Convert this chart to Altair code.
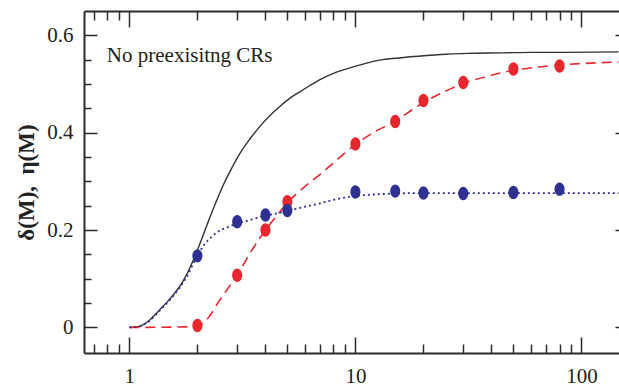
import altair as alt
import pandas as pd

# ---- data ----
pt_x = [2, 3, 4, 5, 10, 15, 20, 30, 50, 80]
red_pt_y = [0.004, 0.107, 0.200, 0.258, 0.377, 0.423, 0.466, 0.503, 0.531, 0.537]
blue_pt_y = [0.147, 0.217, 0.231, 0.240, 0.278, 0.280, 0.276, 0.275, 0.277, 0.284]

black_x = [1, 1.05, 1.11, 1.2, 1.36, 1.5, 1.67, 1.8, 1.95, 2.1, 2.27, 2.4, 2.6, 2.8, 3.08,
           3.4, 3.78, 4.2, 4.63, 5.1, 5.68, 6.3, 6.97, 8, 9.46, 11, 13.2, 16, 20, 25, 31,
           45, 60, 86, 146]
black_y = [0, 0.0005, 0.002, 0.011, 0.036, 0.057, 0.084, 0.110, 0.146, 0.184, 0.226, 0.254,
           0.292, 0.322, 0.357, 0.386, 0.413, 0.436, 0.454, 0.470, 0.484, 0.497, 0.509,
           0.522, 0.533, 0.542, 0.550, 0.554, 0.558, 0.561, 0.563, 0.564, 0.565, 0.565, 0.566]

red_x = [1, 1.5, 1.8, 2, 2.2, 2.5, 3, 3.5, 4, 4.5, 5, 6, 7, 8, 10, 12, 15, 20, 25, 30, 40,
         50, 65, 80, 100, 146]
red_y = [0, 0.0005, 0.001, 0.003, 0.016, 0.055, 0.108, 0.160, 0.200, 0.230, 0.256, 0.290,
         0.315, 0.338, 0.376, 0.400, 0.424, 0.462, 0.485, 0.501, 0.518, 0.528, 0.535,
         0.539, 0.542, 0.545]

blue_x = [1, 1.11, 1.2, 1.36, 1.5, 1.67, 1.8, 1.95, 2.05, 2.16, 2.3, 2.42, 2.69, 3, 3.5, 4,
          5, 6, 7, 8, 10, 12, 15, 20, 50, 146]
blue_y = [0, 0.002, 0.010, 0.034, 0.055, 0.082, 0.105, 0.138, 0.156, 0.172, 0.185, 0.194,
          0.205, 0.213, 0.222, 0.229, 0.239, 0.248, 0.255, 0.262, 0.270, 0.273, 0.275,
          0.276, 0.276, 0.276]

label_text = ["No preexisitng CRs"]
label_x = [0.795]
label_y = [0.545]

x_major = [1, 10, 100]
x_minor = [0.7, 0.8, 0.9, 2, 3, 4, 5, 6, 7, 8, 9, 20, 30, 40, 50, 60, 70, 80, 90]
y_major = [0, 0.2, 0.4, 0.6]
y_minor = [0.05, 0.1, 0.15, 0.25, 0.3, 0.35, 0.45, 0.5, 0.55]

XMIN, XMAX = 0.63, 146.6
YMIN, YMAX = -0.0526, 0.65
W, H = 535, 342

FRAME = "#2a2a2a"
RED = "#e8262d"
BLUE = "#2e3192"
SERIF = "Liberation Serif"

black_df = pd.DataFrame({"x": black_x, "y": black_y})
red_df = pd.DataFrame({"x": red_x, "y": red_y})
blue_df = pd.DataFrame({"x": blue_x, "y": blue_y})
redp_df = pd.DataFrame({"x": pt_x, "y": red_pt_y})
bluep_df = pd.DataFrame({"x": pt_x, "y": blue_pt_y})
lab_df = pd.DataFrame({"x": label_x, "y": label_y, "t": label_text})


def xs():
    return alt.Scale(type="log", domain=[XMIN, XMAX], nice=False)


def ys():
    return alt.Scale(domain=[YMIN, YMAX], nice=False, zero=False)


def tick_axis(orient, values, size, offset=0, domain=False):
    return alt.Axis(orient=orient, values=values, tickSize=size, offset=offset,
                    labels=False, domain=domain, domainColor=FRAME, domainWidth=2,
                    tickColor=FRAME, tickWidth=1.5, grid=False, title=None)


ELLIPSE = "M0,-1A0.75,1,0,1,1,0,1A0.75,1,0,1,1,0,-1Z"

black = alt.Chart(black_df).mark_line(color="#333333", strokeWidth=1.4, interpolate="monotone").encode(
    x=alt.X("x:Q", scale=xs(), axis=alt.Axis(
        orient="bottom", values=x_major, format="d", ticks=False, tickSize=0,
        labelPadding=12, labelFont=SERIF, labelFontSize=21, labelColor="#222",
        domainColor=FRAME, domainWidth=2, grid=False, title=None)),
    y=alt.Y("y:Q", scale=ys(), axis=alt.Axis(
        orient="left", values=y_major, ticks=False, tickSize=0,
        labelExpr="datum.value == 0 ? '0' : format(datum.value, '.1f')",
        labelPadding=11, labelFont=SERIF, labelFontSize=21, labelColor="#222",
        domainColor=FRAME, domainWidth=2, grid=False,
        title="δ(M),\u00a0\u00a0η(M)", titleFont=SERIF, titleFontSize=23, titleFontWeight="bold",
        titleColor="#222", titlePadding=8)),
)

red = alt.Chart(red_df).mark_line(color=RED, strokeWidth=1.6, strokeDash=[10, 6], interpolate="monotone").encode(
    x=alt.X("x:Q", scale=xs(), axis=tick_axis("top", x_major, 16, offset=-H)),
    y=alt.Y("y:Q", scale=ys(), axis=tick_axis("right", y_major, 13, offset=-W)),
)

blue = alt.Chart(blue_df).mark_line(color=BLUE, strokeWidth=1.8, strokeDash=[2, 3], interpolate="monotone").encode(
    x=alt.X("x:Q", scale=xs(), axis=tick_axis("top", x_minor, 9, offset=-H)),
    y=alt.Y("y:Q", scale=ys(), axis=tick_axis("right", y_minor, 7, offset=-W)),
)

red_pts = alt.Chart(redp_df).mark_point(shape=ELLIPSE, filled=True, size=180, color=RED, opacity=1).encode(
    x=alt.X("x:Q", scale=xs(), axis=tick_axis("bottom", x_major, 16, offset=-H, domain=True)),
    y=alt.Y("y:Q", scale=ys(), axis=tick_axis("right", y_major, 4, offset=-4)),
)

blue_pts = alt.Chart(bluep_df).mark_point(shape=ELLIPSE, filled=True, size=180, color=BLUE, opacity=1).encode(
    x=alt.X("x:Q", scale=xs(), axis=tick_axis("bottom", x_minor, 9, offset=-H)),
    y=alt.Y("y:Q", scale=ys(), axis=None),
)

label = alt.Chart(lab_df).mark_text(align="left", baseline="alphabetic", font=SERIF,
                                    fontSize=21, color="#222").encode(
    x=alt.X("x:Q", scale=xs(), axis=None),
    y=alt.Y("y:Q", scale=ys(), axis=None),
    text="t:N",
)

chart = alt.layer(black, red, blue, red_pts, blue_pts, label).resolve_scale(
    x="independent", y="independent"
).resolve_axis(
    x="independent", y="independent"
).properties(
    width=W, height=H,
    autosize=alt.AutoSizeParams(type="none"),
    padding={"left": 84, "top": 11, "right": 0, "bottom": 34},
    background="white",
).configure_view(stroke=None)

chart.save("out.html", embed_options={"renderer": "svg", "actions": False})
